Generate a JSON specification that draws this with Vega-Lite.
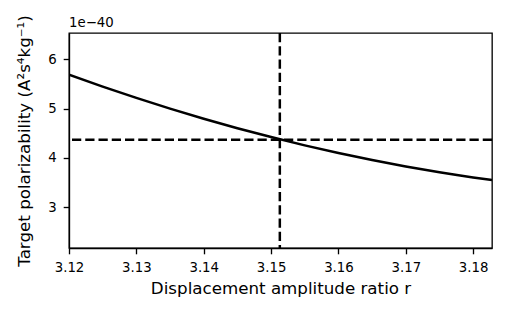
{
  "$schema": "https://vega.github.io/schema/vega-lite/v6.json",
  "width": 423,
  "height": 215,
  "autosize": "none",
  "padding": {"left": 69, "top": 33, "right": 15, "bottom": 69},
  "background": "white",
  "config": {
    "font": "DejaVu Sans",
    "view": {"stroke": "black", "strokeWidth": 1.33},
    "axis": {
      "grid": false,
      "domainColor": "black",
      "domainWidth": 1.33,
      "tickColor": "black",
      "tickSize": 5.8,
      "tickWidth": 1.33,
      "labelColor": "black",
      "labelFontSize": 13.3,
      "labelFlush": false,
      "titleColor": "black",
      "titleFontSize": 16.7,
      "titleFontWeight": "normal"
    }
  },
  "datasets": {
    "curve": [
      {"r": 3.120, "alpha": 5.690},
      {"r": 3.125, "alpha": 5.447},
      {"r": 3.130, "alpha": 5.217},
      {"r": 3.135, "alpha": 4.999},
      {"r": 3.140, "alpha": 4.794},
      {"r": 3.145, "alpha": 4.601},
      {"r": 3.150, "alpha": 4.421},
      {"r": 3.155, "alpha": 4.253},
      {"r": 3.160, "alpha": 4.098},
      {"r": 3.165, "alpha": 3.955},
      {"r": 3.170, "alpha": 3.825},
      {"r": 3.175, "alpha": 3.707},
      {"r": 3.180, "alpha": 3.602},
      {"r": 3.1828, "alpha": 3.549}
    ]
  },
  "layer": [
    {
      "data": {"name": "curve"},
      "mark": {"type": "line", "color": "black", "strokeWidth": 2.5, "clip": true, "interpolate": "monotone"},
      "encoding": {
        "x": {
          "field": "r", "type": "quantitative",
          "scale": {"domain": [3.12, 3.1828], "nice": false, "zero": false},
          "axis": {"values": [3.12, 3.13, 3.14, 3.15, 3.16, 3.17, 3.18], "format": ".2f", "title": "Displacement amplitude ratio r", "labelPadding": 6.5, "titlePadding": 7}
        },
        "y": {
          "field": "alpha", "type": "quantitative",
          "scale": {"domain": [2.168, 6.535], "nice": false, "zero": false},
          "axis": {"values": [3, 4, 5, 6], "format": "d", "title": "Target polarizability (A²s⁴kg⁻¹)", "labelPadding": 7, "titlePadding": 14}
        }
      }
    },
    {
      "data": {"values": [{"r_star": 3.1513}]},
      "mark": {"type": "rule", "color": "black", "strokeWidth": 2.5, "strokeDash": [9.25, 4]},
      "encoding": {"x": {"field": "r_star", "type": "quantitative"}}
    },
    {
      "data": {"values": [{"alpha_star": 4.365}]},
      "mark": {"type": "rule", "color": "black", "strokeWidth": 2.5, "strokeDash": [9.25, 4]},
      "encoding": {"y": {"field": "alpha_star", "type": "quantitative"}}
    },
    {
      "data": {"values": [{"r0": 3.12, "top": 6.535, "label": "1e−40"}]},
      "mark": {"type": "text", "align": "left", "baseline": "bottom", "dy": -3, "fontSize": 13.3, "color": "black", "clip": false},
      "encoding": {
        "x": {"field": "r0", "type": "quantitative"},
        "y": {"field": "top", "type": "quantitative"},
        "text": {"field": "label"}
      }
    }
  ]
}
